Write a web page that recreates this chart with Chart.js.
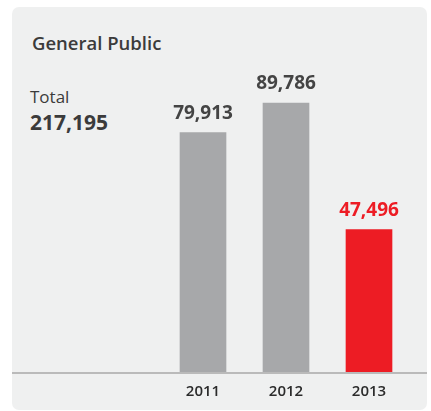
<!DOCTYPE html>
<html>
<head>
<meta charset="utf-8">
<script src="https://cdn.jsdelivr.net/npm/chart.js@4/dist/chart.umd.min.js"></script>
<style>
  body { margin: 0; background: #fff; }
  #wrap { position: relative; width: 431px; height: 411px; overflow: hidden; }
  #panel { position: absolute; left: 12px; top: 7px; width: 415px; height: 403px; background: #eff0f0; border-radius: 7px; }
  .txt { position: absolute; font-family: "Open Sans", sans-serif; color: #3b3b3b; line-height: 1; white-space: nowrap; }
  #title { left: 32px; top: 34px; font-size: 18.5px; font-weight: 600; }
  #totalLbl { left: 30px; top: 88px; font-size: 17px; font-weight: 500; }
  #totalVal { left: 30px; top: 112px; font-size: 21px; font-weight: 700; }
  canvas { position: absolute; left: 0; top: 0; }
</style>
</head>
<body>
<div id="wrap">
  <div id="panel"></div>
  <div class="txt" id="title">General Public</div>
  <div class="txt" id="totalLbl">Total</div>
  <div class="txt" id="totalVal">217,195</div>
  <canvas id="chart" width="431" height="411"></canvas>
</div>
<script>
const years = ['2011', '2012', '2013'];
const visitors = [79913, 89786, 47496];
const barColors = ['#a7a8aa', '#a7a8aa', '#ed1c24'];
const labelColors = ['#444444', '#444444', '#ed1c24'];

const valueLabels = {
    id: 'valueLabels',
    beforeDatasetsDraw(chart) {
        const ctx = chart.ctx;
        const y0 = chart.scales.y.getPixelForValue(0);
        ctx.save();
        ctx.strokeStyle = '#a9a9a9';
        ctx.lineWidth = 1.5;
        ctx.beginPath();
        ctx.moveTo(12, y0 + 1);
        ctx.lineTo(427, y0 + 1);
        ctx.stroke();
        ctx.restore();
    },
    afterDatasetsDraw(chart) {
        const ctx = chart.ctx;
        const meta = chart.getDatasetMeta(0);
        ctx.save();
        ctx.font = 'bold 19px "Open Sans"';
        ctx.textAlign = 'center';
        ctx.textBaseline = 'alphabetic';
        meta.data.forEach((bar, i) => {
            ctx.fillStyle = labelColors[i];
            ctx.fillText(visitors[i].toLocaleString('en-US'), bar.x, bar.y - 14);
        });
        ctx.restore();
    }
};

new Chart('chart', {
    type: 'bar',
    data: {
        labels: years,
        datasets: [{
            data: visitors,
            backgroundColor: barColors,
            barThickness: 46
        }]
    },
    options: {
        responsive: false,
        animation: false,
        layout: {
            padding: { left: 161.5, right: 20.5, top: 72.4, bottom: 7 }
        },
        plugins: {
            legend: { display: false },
            tooltip: { enabled: false }
        },
        scales: {
            x: {
                grid: { display: false },
                border: { display: false },
                ticks: {
                    padding: 3,
                    color: '#2b2b2b',
                    font: { family: 'Open Sans', size: 15, weight: '600' }
                }
            },
            y: {
                display: false,
                min: 0,
                max: 100000
            }
        }
    },
    plugins: [valueLabels]
});
</script>
</body>
</html>
